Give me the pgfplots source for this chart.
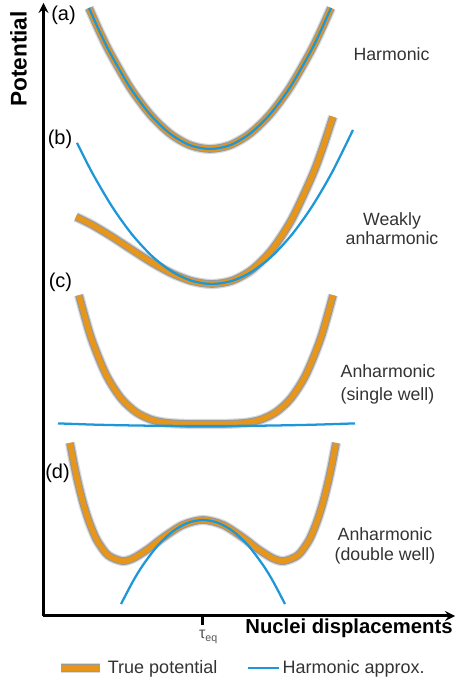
\documentclass[border=0pt]{standalone}
\usepackage{pgfplots}
\pgfplotsset{compat=1.18}
\usepackage{pgfplotstable}
\usepackage{fontspec}
\setmainfont{Liberation Sans}
\usetikzlibrary{arrows.meta}

\definecolor{truepot}{HTML}{E8961A}
\definecolor{harmblue}{HTML}{1C97D9}
\definecolor{labelgray}{HTML}{333333}
\definecolor{tickgray}{HTML}{555555}

% (a) harmonic: true potential and harmonic approximation coincide
\pgfplotstableread{
x y
89 673
100 648.5
110 628.3
130 593.6
150 566.7
170 547.4
190 535.8
210 532
230 535.8
250 547.4
270 566.7
290 593.6
310 628.3
320 648.5
331 673
}\curveA

% (b) weakly anharmonic
\pgfplotstableread{
x y
76 464.1
92 456.2
112 444.2
132 431.1
152 418.4
172 407.5
192 399.9
212 397
232 400.3
252 411.3
272 431.4
292 462.1
312 504.8
322 531.1
333 564.2
}\trueB
\pgfplotstableread{
x y
77 538.2
92 508.6
112 474.5
132 446.6
152 424.9
172 409.4
192 400.1
212 397
232 400.1
252 409.4
272 424.9
292 446.6
312 474.5
332 508.6
353 551.1
}\harmB

% (c) anharmonic, single well
\pgfplotstableread{
x y
79 385.8
91 343.6
106 306.5
121 282.8
136 268.9
151 261.5
166 258.3
186 257.1
206 257
226 257.1
246 258.3
261 261.5
276 268.9
291 282.8
306 306.5
321 343.6
333 385.8
}\trueC
\pgfplotstableread{
x y
58 257.6
100 256.2
150 255.3
206 255
260 255.3
310 256.2
355 257.6
}\harmC

% (d) anharmonic, double well
\pgfplotstableread{
x y
70 238.1
74 216.9
78 198.4
83 178.6
88 162.4
93 149.3
98 139
108 125.8
122 120
133 122.6
148 131.9
163 143.4
183 156.1
203 161
223 156.1
243 143.4
258 131.9
273 122.6
284 120
298 125.8
308 139
313 149.3
318 162.4
323 178.6
328 198.4
332 216.9
336 238.1
}\trueD
\pgfplotstableread{
x y
121 76.95
133 99.75
143 116
158 135.7
173 149.75
188 158.2
203 161
218 158.2
233 149.75
248 135.7
263 116
273 99.75
285 76.95
}\harmD

\tikzset{
  halo outer/.style={black!50, line width=7.6pt, opacity=0.3},
  halo inner/.style={black!60, line width=5.8pt, opacity=0.55},
  truecurve/.style={truepot, line width=3.9pt},
  harmcurve/.style={harmblue, line width=1.7pt},
  sidelabel/.style={font=\fontsize{13.3}{16}\selectfont, text=labelgray, anchor=base},
  panellabel/.style={font=\fontsize{15}{18}\selectfont, anchor=center},
}

\begin{document}
\begin{tikzpicture}
\begin{axis}[
  scale only axis,
  width=308.625pt, height=459.75pt,
  xmin=43.5, xmax=455, ymin=65, ymax=678,
  axis lines=left,
  axis line style={line width=2.25pt},
  every non boxed x axis/.append style={x axis line style={-{Latex[length=10pt,width=8.5pt]}, shorten <=-1.125pt}},
  every non boxed y axis/.append style={y axis line style={-{Latex[length=10pt,width=8.5pt]}, shorten <=-1.125pt}},
  clip=false, no markers,
  ytick=\empty,
  xtick={202.3}, xticklabels={τ\rlap{\fontsize{8}{9}\selectfont\raisebox{-0.35em}{eq}}},
  tick align=outside, major tick length=6.75pt,
  xtick style={black, line width=1.8pt},
  xticklabel style={font=\fontsize{12}{14}\selectfont, text=tickgray},
  xlabel={Nuclei displacements}, ylabel={Potential},
  every axis x label/.style={at={(axis description cs:0.7424,-0.02855)}, anchor=base, font=\bfseries\fontsize{15.2}{18}\selectfont},
  every axis y label/.style={at={(axis description cs:-0.0408,0.9086)}, rotate=90, anchor=base, font=\bfseries\fontsize{17}{20}\selectfont},
  legend style={at={(axis description cs:0.0300,-0.08483)}, anchor=west, draw=none, fill=none,
    inner sep=0pt, font=\fontsize{13.5}{16}\selectfont, text=labelgray,
    /tikz/every even column/.append style={column sep=20pt}},
  legend columns=2,
]
% (a)
\addplot[halo outer, smooth, forget plot] table {\curveA};
\addplot[halo inner, smooth, forget plot] table {\curveA};
\addplot[truecurve, smooth,
  legend image code/.code={
    \draw[halo outer] (0pt,0pt) -- (29.25pt,0pt);
    \draw[halo inner] (0pt,0pt) -- (29.25pt,0pt);
    \draw[truecurve] (0pt,0pt) -- (29.25pt,0pt);}] table {\curveA};
\addlegendentry{True potential}
\addplot[harmcurve, smooth,
  legend image code/.code={\draw[harmcurve] (0pt,0pt) -- (23.25pt,0pt);}] table {\curveA};
\addlegendentry{Harmonic approx.}
% (b)
\addplot[halo outer, smooth, forget plot] table {\trueB};
\addplot[halo inner, smooth, forget plot] table {\trueB};
\addplot[truecurve, smooth, forget plot] table {\trueB};
\addplot[harmcurve, smooth, forget plot] table {\harmB};
% (c)
\addplot[halo outer, smooth, forget plot] table {\trueC};
\addplot[halo inner, smooth, forget plot] table {\trueC};
\addplot[truecurve, smooth, forget plot] table {\trueC};
\addplot[harmcurve, smooth, forget plot] table {\harmC};
% (d)
\addplot[halo outer, smooth, forget plot] table {\trueD};
\addplot[halo inner, smooth, forget plot] table {\trueD};
\addplot[truecurve, smooth, forget plot] table {\trueD};
\addplot[harmcurve, smooth, forget plot] table {\harmD};

\node[panellabel] at (axis cs:63.5,665.5) {(a)};
\node[panellabel] at (axis cs:60,541.5) {(b)};
\node[panellabel] at (axis cs:60.5,398.5) {(c)};
\node[panellabel] at (axis cs:57.5,207.5) {(d)};

\node[sidelabel] at (axis cs:391.5,620) {Harmonic};
\node[sidelabel] at (axis cs:392,455) {Weakly};
\node[sidelabel] at (axis cs:392,436) {anharmonic};
\node[sidelabel] at (axis cs:388,303) {Anharmonic};
\node[sidelabel] at (axis cs:387.5,280) {(single well)};
\node[sidelabel] at (axis cs:385,140) {Anharmonic};
\node[sidelabel] at (axis cs:385,120) {(double well)};

\coordinate (bbSW) at (axis cs:0,0);
\coordinate (bbNE) at (axis cs:458,681);
\end{axis}
\pgfresetboundingbox
\path[use as bounding box] (bbSW) rectangle (bbNE);
\end{tikzpicture}
\end{document}
